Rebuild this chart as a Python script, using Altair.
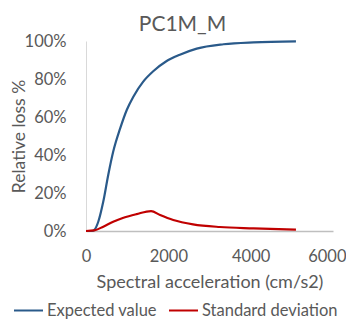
import altair as alt
import pandas as pd

title = "PC1M_M"
series_names = ["Expected value", "Standard deviation"]

ev_x = [0, 150, 200, 300, 420, 540, 660, 830, 990, 1150, 1390, 1640, 1960, 2280, 2690, 3340, 4070, 5100]
ev_y = [0, 0, 0.005, 0.05, 0.155, 0.295, 0.417, 0.54, 0.637, 0.707, 0.786, 0.842, 0.895, 0.928, 0.96, 0.983, 0.993, 0.998]

sd_x = [0, 200, 420, 660, 910, 1230, 1580, 1800, 2120, 2600, 3250, 4070, 5100]
sd_y = [0, 0.003, 0.023, 0.049, 0.07, 0.089, 0.105, 0.084, 0.058, 0.035, 0.021, 0.014, 0.007]

x_ticks = [0, 2000, 4000, 6000]
y_ticks = [0, 0.2, 0.4, 0.6, 0.8, 1.0]

rows = []
for i, (x, y) in enumerate(zip(ev_x, ev_y)):
    rows.append({"x": x, "y": y, "series": series_names[0], "order": i})
for i, (x, y) in enumerate(zip(sd_x, sd_y)):
    rows.append({"x": x, "y": y, "series": series_names[1], "order": i})
df = pd.DataFrame(rows)

FONT = "Lato"
GRAY = "#595959"

chart = alt.Chart(df).mark_line(strokeWidth=2.2, interpolate="monotone").encode(
    x=alt.X("x:Q", scale=alt.Scale(domain=[0, 6000], nice=False),
            axis=alt.Axis(values=x_ticks, format="d", title="Spectral acceleration (cm/s2)", grid=False,
                          ticks=False, labelPadding=17, titlePadding=9, labelFlush=False,
                          labelAlign=alt.condition("datum.value == 6000", alt.value("right"), alt.value("center")),
                          labelOffset=alt.condition("datum.value == 6000", alt.value(13), alt.value(0)),
                          domainColor="#BFBFBF", domainWidth=1.5,
                          labelFontSize=16.5, titleFontSize=18, titleFontWeight="normal",
                          labelColor=GRAY, titleColor=GRAY, labelFont=FONT, titleFont=FONT)),
    y=alt.Y("y:Q", scale=alt.Scale(domain=[0, 1], nice=False),
            axis=alt.Axis(values=y_ticks, format=".0%", title="Relative loss %", grid=False,
                          ticks=False, labelPadding=20, titleX=-58, titleY=95,
                          domainColor="#D9D9D9", domainWidth=1,
                          labelFontSize=16.5, titleFontSize=17.5, titleFontWeight="normal",
                          labelColor=GRAY, titleColor=GRAY, labelFont=FONT, titleFont=FONT)),
    color=alt.Color("series:N",
                    scale=alt.Scale(domain=series_names, range=["#2A5A8A", "#C00000"]),
                    legend=alt.Legend(title=None, orient="none", direction="horizontal",
                                      legendX=-73, legendY=254,
                                      symbolType="stroke", symbolSize=841, symbolStrokeWidth=2,
                                      labelFontSize=16.5, labelColor=GRAY, labelFont=FONT,
                                      labelOffset=3, columnPadding=8)),
    order="order:Q",
).properties(
    width=247, height=190,
    title=alt.TitleParams(title, fontSize=21, font=FONT, fontWeight="normal", color=GRAY,
                          anchor="middle", offset=8, dx=-27, dy=10),
    autosize=alt.AutoSizeParams(type="none"),
    padding={"left": 78, "top": 33, "right": 13, "bottom": 90},
).configure_view(stroke=None)

chart.save("out.html", embed_options={"renderer": "svg", "actions": False})
